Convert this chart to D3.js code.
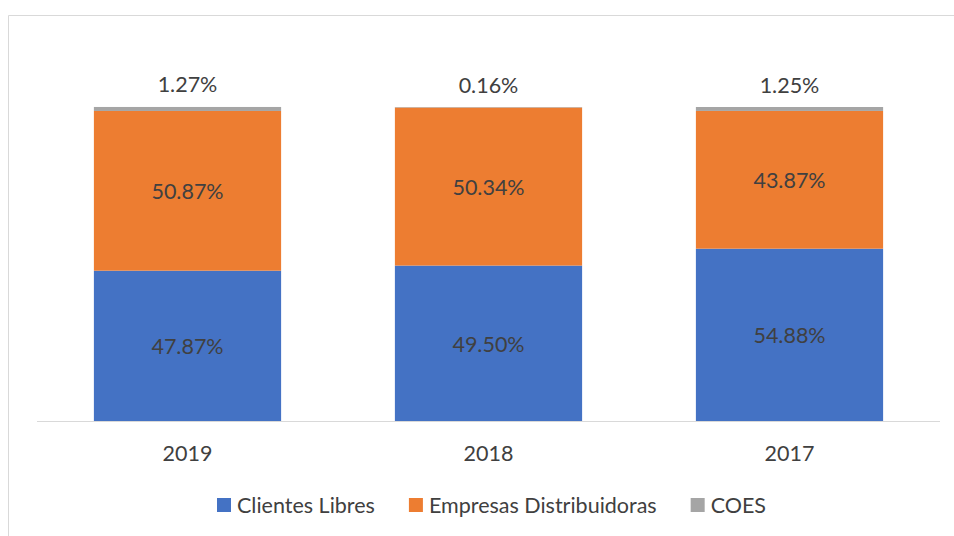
<!DOCTYPE html>
<html><head><meta charset="utf-8">
<script src="https://cdn.jsdelivr.net/npm/d3@7"></script>
<style>body{margin:0;background:#fff}svg{display:block}text{font-family:Lato,"Open Sans",sans-serif}</style>
</head><body>
<svg id="c" width="954" height="536"></svg>
<script>
const categories = ["2019", "2018", "2017"];
const seriesNames = ["Clientes Libres", "Empresas Distribuidoras", "COES"];
const clientesLibres = [47.87, 49.50, 54.88];
const empresasDistribuidoras = [50.87, 50.34, 43.87];
const coes = [1.27, 0.16, 1.25];
const colors = ["#4472C4", "#ED7D31", "#A5A5A5"];

const FS = 21.5;
const svg = d3.select("#c");
// chart border
svg.append("path").attr("d","M8.5,536 V15.5 H954").attr("fill","none").attr("stroke","#d9d9d9").attr("stroke-width",1);

const rows = categories.map((c,i)=>({cat:c, s0:clientesLibres[i], s1:empresasDistribuidoras[i], s2:coes[i]}));
const stack = d3.stack().keys(["s0","s1","s2"])(rows);

const x = d3.scaleBand().domain(categories).range([37,940]).paddingInner(0.378).paddingOuter(0.189);
const y = d3.scaleLinear().domain([0,100]).range([421,107]);

stack.forEach((layer,k)=>{
  svg.append("g").selectAll("rect").data(layer).join("rect")
    .attr("x",d=>x(d.data.cat)).attr("width",x.bandwidth())
    .attr("y",d=>y(d[1])).attr("height",d=>y(d[0])-y(d[1]))
    .attr("fill",colors[k]);
});

// axis
const xAxis = svg.append("g").attr("transform","translate(0,421.5)")
  .call(d3.axisBottom(x).tickSize(0));
xAxis.select(".domain").attr("stroke","#d9d9d9").attr("d","M37,0H940");
xAxis.selectAll("text").attr("y",32).attr("dy","0.35em").attr("font-size",FS).attr("fill","#404040").style("font-family","Lato,'Open Sans',sans-serif");

// labels
stack.forEach((layer,k)=>{
  svg.append("g").selectAll("text").data(layer).join("text")
    .attr("x",d=>x(d.data.cat)+x.bandwidth()/2)
    .attr("y",d=> k===2 ? y(d[1]) - 22 : (y(d[0])+y(d[1]))/2 + 1)
    .attr("dy","0.35em").attr("text-anchor","middle")
    .attr("font-size",FS).attr("fill","#404040")
    .text(d=>(d[1]-d[0]).toFixed(2)+"%");
});

// legend
const lg = svg.append("g");
let lx = 217;
seriesNames.forEach((n,i)=>{
  lg.append("rect").attr("x",lx).attr("y",498).attr("width",14).attr("height",14).attr("fill",colors[i]);
  const t = lg.append("text").attr("x",lx+20).attr("y",505).attr("dy","0.35em").attr("font-size",FS).attr("fill","#404040").text(n);
  lx += 20 + t.node().getComputedTextLength() + 34;
});
</script>
</body></html>
